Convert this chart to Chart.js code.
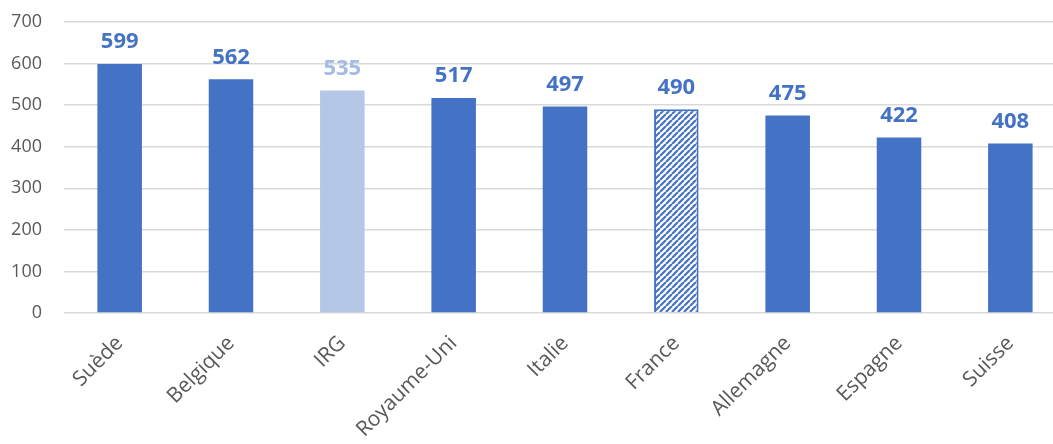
<!DOCTYPE html>
<html>
<head>
<meta charset="utf-8">
<script src="https://cdn.jsdelivr.net/npm/chart.js@4/dist/chart.umd.min.js"></script>
<style>
  html, body { margin: 0; padding: 0; background: #fff; overflow: hidden; }
  #wrap { position: relative; width: 1066px; height: 444px; }
</style>
</head>
<body>
<div id="wrap"><canvas id="c"></canvas></div>
<script>
const categories = ['Suède', 'Belgique', 'IRG', 'Royaume-Uni', 'Italie', 'France', 'Allemagne', 'Espagne', 'Suisse'];
const values = [599, 562, 535, 517, 497, 490, 475, 422, 408];
const yTicks = [0, 100, 200, 300, 400, 500, 600, 700];

const BLUE = '#4472C4';
const LIGHT = '#B4C7E7';

// Diagonal hatch used for the France bar
function makeHatch() {
  const s = 6;
  const cv = document.createElement('canvas');
  cv.width = s; cv.height = s;
  const g = cv.getContext('2d');
  g.fillStyle = '#ffffff';
  g.fillRect(0, 0, s, s);
  g.strokeStyle = BLUE;
  g.lineWidth = 2.2;
  g.beginPath();
  for (let k = -1; k <= 1; k++) {
    g.moveTo(k * s, s);
    g.lineTo(k * s + s, 0);
  }
  g.stroke();
  return g.createPattern(cv, 'repeat');
}
const hatch = makeHatch();

const fills = categories.map(c => c === 'IRG' ? LIGHT : (c === 'France' ? hatch : BLUE));
const borders = categories.map(c => c === 'France' ? BLUE : 'rgba(0,0,0,0)');
const borderW = categories.map(c => c === 'France' ? 2 : 0);
const labelColors = categories.map(c => c === 'IRG' ? '#A4BCE5' : BLUE);

const valueLabels = {
  id: 'valueLabels',
  afterDatasetsDraw(chart) {
    const ctx = chart.ctx;
    const meta = chart.getDatasetMeta(0);
    ctx.save();
    ctx.font = 'bold 22px "Open Sans", sans-serif';
    ctx.textAlign = 'center';
    ctx.textBaseline = 'bottom';
    meta.data.forEach((bar, i) => {
      ctx.fillStyle = labelColors[i];
      ctx.fillText(String(values[i]), bar.x, bar.y - 11);
    });
    ctx.restore();
  }
};

new Chart(document.getElementById('c'), {
  type: 'bar',
  data: {
    labels: categories,
    datasets: [{
      data: values,
      backgroundColor: fills,
      borderColor: borders,
      borderWidth: borderW,
      categoryPercentage: 1,
      barPercentage: 0.4
    }]
  },
  options: {
    responsive: true,
    maintainAspectRatio: false,
    animation: false,
    layout: { padding: { top: 22, left: 0, right: 0, bottom: 0 } },
    plugins: { legend: { display: false }, tooltip: { enabled: false } },
    scales: {
      x: {
        grid: { display: false },
        border: { display: false },
        ticks: {
          color: '#595959',
          font: { family: '"Open Sans", sans-serif', size: 21 },
          maxRotation: 45,
          minRotation: 45,
          autoSkip: false,
          padding: 10
        },
        afterFit(scale) {
          scale.height = 131;
          scale.paddingLeft = 0;
          scale.paddingRight = 0;
        }
      },
      y: {
        min: 0,
        max: 700,
        afterBuildTicks(scale) { scale.ticks = yTicks.map(v => ({ value: v })); },
        grid: { color: '#D9D9D9', lineWidth: 1.5, drawTicks: false },
        border: { display: false },
        ticks: {
          color: '#595959',
          font: { family: '"Open Sans", sans-serif', size: 18 },
          padding: 22
        },
        afterFit(scale) {
          scale.width = 64;
          scale.paddingTop = 0;
          scale.paddingBottom = 0;
        }
      }
    }
  },
  plugins: [valueLabels]
});
</script>
</body>
</html>
